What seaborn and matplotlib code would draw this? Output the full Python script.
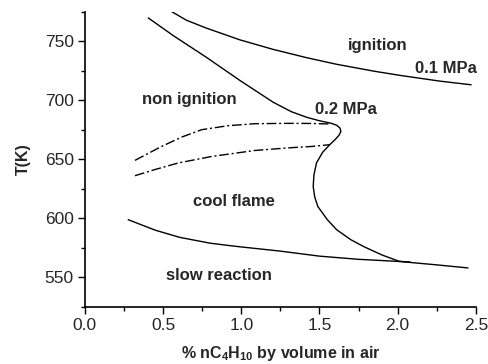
import matplotlib
matplotlib.use("Agg")
import matplotlib.pyplot as plt
from matplotlib.ticker import MultipleLocator, FormatStrFormatter
import seaborn as sns
import pandas as pd

# ignition limit, 0.1 MPa
x_01 = [0.554, 0.65, 0.778, 0.991, 1.204, 1.417, 1.609, 1.85, 2.014, 2.27, 2.47]
t_01 = [775.4, 768.0, 761.3, 751.4, 743.3, 736.3, 730.7, 724.8, 721.3, 716.4, 713.3]

# ignition / cool flame limit, 0.2 MPa (turns back on itself)
x_02 = [0.405, 0.565, 0.778, 0.991, 1.204, 1.32, 1.417, 1.50, 1.577, 1.61, 1.632, 1.637,
        1.625, 1.60, 1.566, 1.52, 1.481, 1.465, 1.46, 1.47, 1.49, 1.55, 1.61, 1.70, 1.78,
        1.90, 2.01, 2.08]
t_02 = [770.0, 755.0, 736.5, 717.0, 698.5, 690.5, 685.8, 682.8, 680.6, 679.0, 676.5, 673.7,
        670.5, 666.8, 662.5, 656.0, 647.0, 637.0, 627.0, 618.0, 610.0, 599.0, 590.4, 582.0,
        576.3, 569.0, 563.6, 563.0]

# dash-dot branches
x_dd1 = [0.32, 0.49, 0.62, 0.746, 0.916, 1.087, 1.30, 1.45, 1.577]
t_dd1 = [649.2, 661.0, 669.0, 675.2, 678.6, 680.3, 680.6, 680.5, 680.0]
x_dd2 = [0.32, 0.45, 0.597, 0.81, 1.087, 1.30, 1.45, 1.566]
t_dd2 = [636.2, 641.5, 647.0, 652.5, 657.6, 659.8, 661.0, 662.5]

# slow reaction / cool flame boundary
x_slow = [0.277, 0.45, 0.607, 0.80, 0.927, 1.0, 1.247, 1.50, 1.75, 2.01, 2.25, 2.45]
t_slow = [598.9, 590.0, 583.9, 579.0, 576.9, 575.8, 572.3, 568.0, 565.3, 563.5, 560.6, 558.0]

labels = ["ignition", "0.1 MPa", "0.2 MPa", "non ignition", "cool flame", "slow reaction"]
label_x = [1.87, 2.31, 1.67, 0.67, 0.95, 0.86]
label_t = [747, 727.5, 692.5, 700.5, 614.5, 552]

sns.set_style("ticks")
plt.rcParams['font.family'] = ['Liberation Sans', 'DejaVu Sans']
plt.rcParams['mathtext.fontset'] = 'custom'
plt.rcParams['mathtext.bf'] = 'Liberation Sans:bold'
plt.rcParams['mathtext.rm'] = 'Liberation Sans:bold'

fig = plt.figure(figsize=(4.88, 3.64), dpi=100)
ax = fig.add_axes([0.174, 0.157, 0.801, 0.81])

solid = [(x_01, t_01), (x_02, t_02), (x_slow, t_slow)]
for xs, ts in solid:
    d = pd.DataFrame({"x": xs, "T": ts})
    sns.lineplot(data=d, x="x", y="T", sort=False, estimator=None, color="black",
                 linewidth=1.0, ax=ax)

for xs, ts in [(x_dd1, t_dd1), (x_dd2, t_dd2)]:
    d = pd.DataFrame({"x": xs, "T": ts})
    sns.lineplot(data=d, x="x", y="T", sort=False, estimator=None, color="black",
                 linewidth=1.0, linestyle=(0, (7, 2, 1.5, 2)), ax=ax)

for s, lx, lt in zip(labels, label_x, label_t):
    ax.text(lx, lt, s, ha="center", va="center", fontsize=12, fontweight="bold")

ax.set_xlim(0, 2.5)
ax.set_ylim(525, 775)
ax.xaxis.set_major_locator(MultipleLocator(0.5))
ax.xaxis.set_minor_locator(MultipleLocator(0.25))
ax.xaxis.set_major_formatter(FormatStrFormatter('%.1f'))
ax.yaxis.set_major_locator(MultipleLocator(50))
ax.yaxis.set_minor_locator(MultipleLocator(25))
ax.tick_params(which="major", length=5, width=1, labelsize=12.5, pad=3, color="black")
ax.tick_params(which="minor", length=3, width=1, color="black")
for sp in ["left", "bottom"]:
    ax.spines[sp].set_linewidth(1.2)
    ax.spines[sp].set_color("black")
sns.despine(ax=ax)

ax.set_xlabel(r'% nC$_\mathbf{4}$H$_\mathbf{10}$ by volume in air', fontsize=11.5,
              fontweight="bold", labelpad=8)
ax.set_ylabel("T(K)", fontsize=11.5, fontweight="bold", labelpad=10)

fig.savefig("out.png", dpi=100)
